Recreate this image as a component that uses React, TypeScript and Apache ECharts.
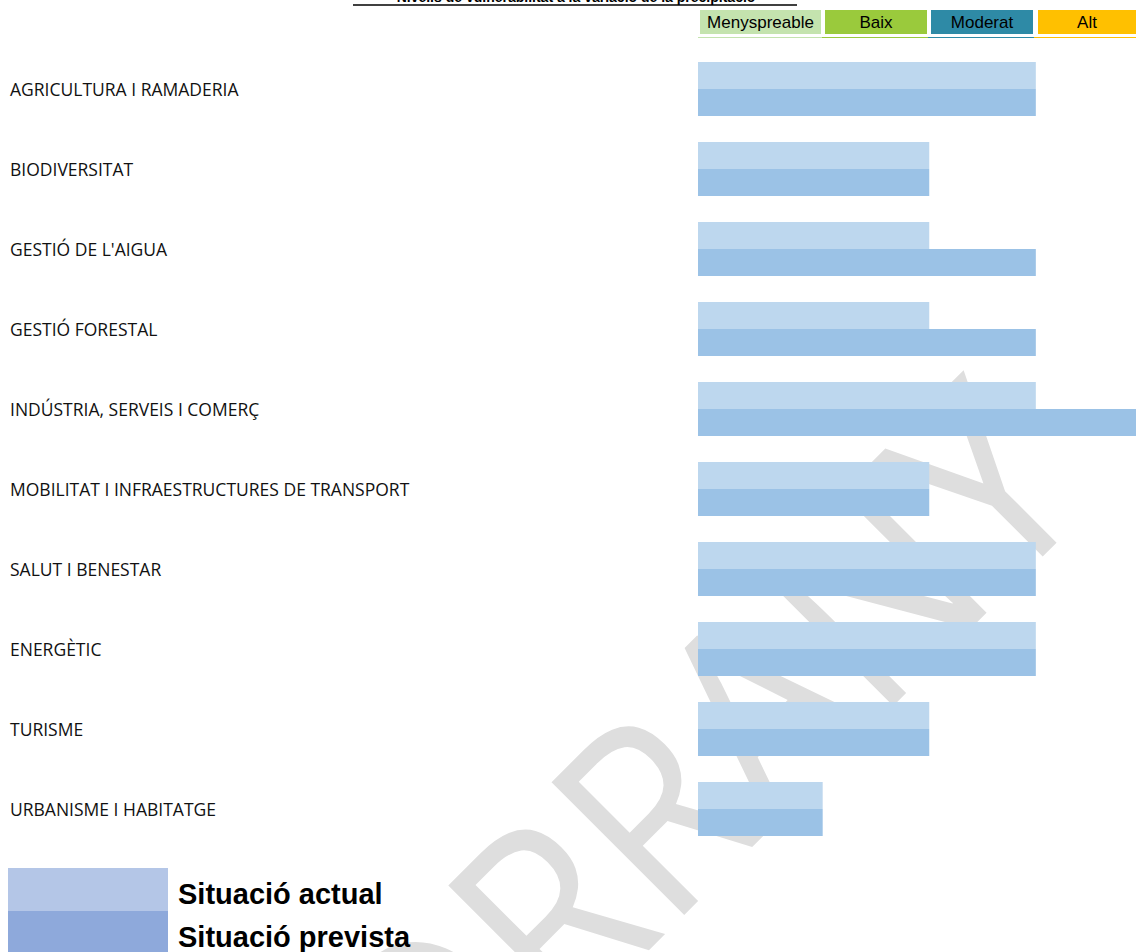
import React, { useEffect, useRef } from "react";
import * as echarts from "echarts";

const categories = [
  "AGRICULTURA I RAMADERIA",
  "BIODIVERSITAT",
  "GESTIÓ DE L'AIGUA",
  "GESTIÓ FORESTAL",
  "INDÚSTRIA, SERVEIS I COMERÇ",
  "MOBILITAT I INFRAESTRUCTURES DE TRANSPORT",
  "SALUT I BENESTAR",
  "ENERGÈTIC",
  "TURISME",
  "URBANISME I HABITATGE",
];
// 1 = Menyspreable, 2 = Baix, 3 = Moderat, 4 = Alt
const actual = [3, 2, 2, 2, 3, 2, 3, 3, 2, 1];
const prevista = [3, 2, 3, 3, 4, 2, 3, 3, 2, 1];
const seriesNames = ["Situació actual", "Situació prevista"];
const levelNames = ["Menyspreable", "Baix", "Moderat", "Alt"];
const levelColors = ["#C4E3AE", "#9ACA3C", "#2E8AA6", "#FFC000"];
const title = "Nivells de vulnerabilitat a la variació de la precipitació";
const watermark = "ESBORRANY";

const X_MIN = -0.17;
const X_MAX = 3.94;
const BAR_H = 27;

function makeRender(seriesIdx: number) {
  return (params: any, api: any) => {
    const v = api.value(0);
    const c = api.value(1);
    const start = api.coord([X_MIN, c]);
    const end = api.coord([v, c]);
    const cs = params.coordSys;
    const x0 = start[0];
    const x1 = Math.min(end[0], cs.x + cs.width);
    const y = seriesIdx === 0 ? start[1] - BAR_H : start[1];
    return {
      type: "rect",
      shape: { x: x0, y, width: x1 - x0, height: BAR_H },
      style: { fill: api.visual("color") },
    };
  };
}

export default function App() {
  const ref = useRef<HTMLDivElement>(null);
  useEffect(() => {
    if (!ref.current) return;
    const chart = echarts.init(ref.current, null, { renderer: "svg" });
    const boxes = [
      [700, 821],
      [825, 927],
      [931, 1033],
      [1038, 1136],
    ];
    const lines = [
      [698, 822],
      [822, 928],
      [928, 1034],
      [1034, 1136],
    ];
    const graphics: any[] = [
      {
        type: "text",
        x: 547,
        y: 908,
        rotation: Math.PI / 4,
        scaleX: 0.9,
        z: 0,
        silent: true,
        style: {
          text: watermark,
          fontSize: 263,
          fontFamily: "Open Sans",
          fill: "#DEDEDE",
          align: "center",
          verticalAlign: "middle",
        },
      },
      {
        type: "text",
        x: 576,
        y: 3.5,
        z: 5,
        style: {
          text: title,
          fontSize: 14,
          fontWeight: "bold",
          fontFamily: "Liberation Sans",
          fill: "#000",
          align: "center",
          verticalAlign: "bottom",
        },
      },
      {
        type: "line",
        z: 5,
        shape: { x1: 353, y1: 5, x2: 797, y2: 5 },
        style: { stroke: "#000", lineWidth: 1.5 },
      },
    ];
    levelNames.forEach((n, i) => {
      graphics.push({
        type: "rect",
        z: 5,
        shape: { x: boxes[i][0], y: 10, width: boxes[i][1] - boxes[i][0], height: 24 },
        style: { fill: levelColors[i] },
      });
      graphics.push({
        type: "text",
        z: 6,
        x: (boxes[i][0] + boxes[i][1]) / 2,
        y: 22.5,
        style: {
          text: n,
          fontSize: 17,
          fontFamily: "Liberation Sans",
          fill: "#000",
          align: "center",
          verticalAlign: "middle",
        },
      });
      graphics.push({
        type: "line",
        z: 5,
        shape: { x1: lines[i][0], y1: 37.5, x2: lines[i][1], y2: 37.5 },
        style: { stroke: levelColors[i], lineWidth: 1 },
      });
    });

    chart.setOption({
      animation: false,
      grid: { left: 698, right: 0, top: 49, bottom: 103, containLabel: false },
      xAxis: {
        type: "value",
        min: X_MIN,
        max: X_MAX,
        show: false,
      },
      yAxis: {
        type: "category",
        inverse: true,
        data: categories,
        axisLine: { show: false },
        axisTick: { show: false },
        splitLine: { show: false },
        axisLabel: {
          align: "left",
          margin: 688,
          fontSize: 17.5,
          fontFamily: "Open Sans",
          color: "#111",
        },
      },
      legend: {
        orient: "vertical",
        left: 8,
        top: 868,
        height: 200,
        padding: 0,
        itemGap: 0,
        itemWidth: 160,
        itemHeight: 43,
        icon: "rect",
        selectedMode: false,
        formatter: (name: string) => `{t|${name}}`,
        textStyle: {
          fontFamily: "Liberation Sans",
          fontWeight: "bold",
          fontSize: 29,
          color: "#000",
          rich: {
            t: {
              fontFamily: "Liberation Sans",
              fontWeight: "bold",
              fontSize: 29,
              color: "#000",
              padding: [9, 0, 0, 5],
            },
          },
        },
        data: [
          { name: seriesNames[0], itemStyle: { color: "#B4C6E7" } },
          { name: seriesNames[1], itemStyle: { color: "#8EA9DB" } },
        ],
      },
      graphic: graphics,
      series: [
        {
          name: seriesNames[0],
          type: "custom",
          data: actual.map((v, i) => [v, i]),
          encode: { x: 0, y: 1 },
          renderItem: makeRender(0),
          z: 3,
          itemStyle: { color: "#BDD7EE" },
        },
        {
          name: seriesNames[1],
          type: "custom",
          data: prevista.map((v, i) => [v, i]),
          encode: { x: 0, y: 1 },
          renderItem: makeRender(1),
          z: 3,
          itemStyle: { color: "#9BC2E6" },
        },
      ],
    });
    return () => chart.dispose();
  }, []);
  return (
    <div
      ref={ref}
      style={{ position: "absolute", left: 0, top: 0, width: 1136, height: 952 }}
    />
  );
}
